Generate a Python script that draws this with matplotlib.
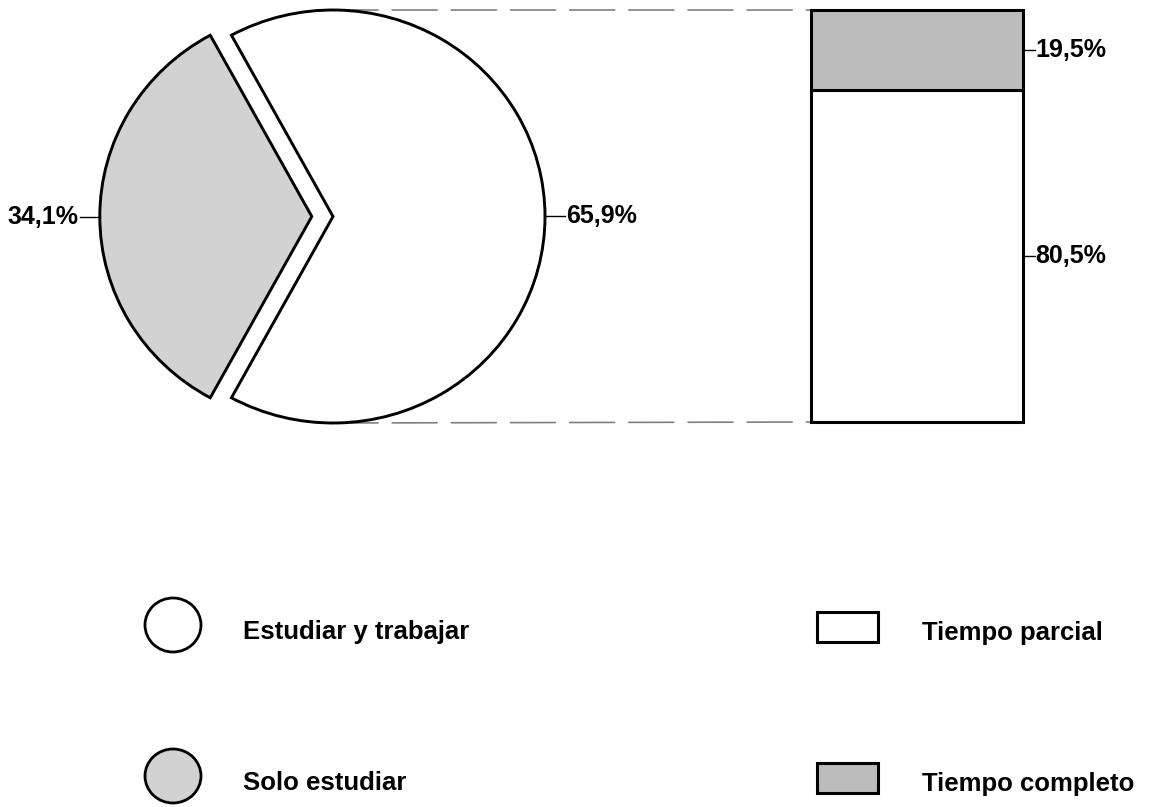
import numpy as np
import matplotlib
matplotlib.use('Agg')
import matplotlib.pyplot as plt
from matplotlib.patches import ConnectionPatch, Ellipse, Rectangle

#Datos del gráfico circular
actividades = ['Estudiar y trabajar', 'Solo estudiar']
porc_actividad = [65.9, 34.1]
etiquetas_pie = ['65,9%', '34,1%']

#Datos de la barra
jornadas = ['Tiempo parcial', 'Tiempo completo']
porc_jornada = [80.5, 19.5]
etiquetas_barra = ['80,5%', '19,5%']

#Colores
colores_pie = ['white', '#d2d2d2']
colores_barra = ['white', '#bcbcbc']

plt.rcParams['font.family'] = ['Liberation Sans', 'DejaVu Sans']
plt.rcParams['font.weight'] = 'bold'

W, H = 1156, 807
fig = plt.figure(figsize=(W / 100, H / 100), dpi=100)
fig.patch.set_facecolor('white')

#Pie
cx, cy, rx, ry, lim = 333, 216.5, 212, 206.5, 1.3
ax1 = fig.add_axes([(cx - lim * rx) / W, 1 - (cy + lim * ry) / H,
                    2 * lim * rx / W, 2 * lim * ry / H])
inicio = 180 - porc_actividad[1] * 3.6 / 2 - porc_actividad[0] * 3.6
wedges, _ = ax1.pie(porc_actividad, colors=colores_pie, explode=[0, 0.1],
                    startangle=inicio,
                    wedgeprops=dict(edgecolor='black', linewidth=2.1))
ax1.set_aspect('auto')
ax1.set_xlim(-lim, lim)
ax1.set_ylim(-lim, lim)
ax1.axis('off')

for w, etq in zip(wedges, etiquetas_pie):
    w.set_clip_on(False)
    ang = np.deg2rad((w.theta1 + w.theta2) / 2)
    x0 = w.center[0] + np.cos(ang)
    y0 = w.center[1] + np.sin(ang)
    x1 = x0 + 0.095 * np.sign(np.cos(ang))
    ax1.plot([x0, x1], [y0, y0], color='black', lw=1, clip_on=False)
    ax1.text(x1 + 0.004 * np.sign(np.cos(ang)), y0, etq, fontsize=18,
             ha='left' if np.cos(ang) > 0 else 'right', va='center')

#Barra
ax2 = fig.add_axes([811 / W, 1 - 422 / H, 212 / W, 412 / H])
abajo = 0
for val, col, etq in zip(porc_jornada, colores_barra, etiquetas_barra):
    ax2.bar(0, val, width=1, bottom=abajo, color=col, edgecolor='black',
            linewidth=2.2, clip_on=False)
    ym = abajo + val / 2
    ax2.plot([0.5, 0.5 + 12 / 212], [ym, ym], color='black', lw=1, clip_on=False)
    ax2.text(0.5 + 12 / 212, ym, etq, fontsize=18, ha='left', va='center')
    abajo += val
ax2.set_xlim(-0.5, 0.5)
ax2.set_ylim(0, 100)
ax2.axis('off')

#Lineas discontinuas
for ya, yb in [(1, 100), (-1, 0)]:
    con = ConnectionPatch(xyA=(0, ya), coordsA=ax1.transData,
                          xyB=(-0.5, yb), coordsB=ax2.transData,
                          color='#808080', linewidth=1.2,
                          linestyle=(0, (27, 8.5)), zorder=0)
    fig.add_artist(con)

#Leyendas
axl = fig.add_axes([0, 0, 1, 1], zorder=-1)
axl.set_xlim(0, W)
axl.set_ylim(H, 0)
axl.axis('off')
filas = [625, 776]
for y, nombre, col in zip(filas, actividades, colores_pie):
    axl.add_patch(Ellipse((173, y), 56, 54, facecolor=col, edgecolor='black', lw=2))
    axl.text(243, y + 14, nombre, fontsize=18.5, ha='left', va='baseline')
for y, nombre, col in zip(filas, jornadas, colores_barra):
    axl.add_patch(Rectangle((817, y - 13), 61, 30, facecolor=col, edgecolor='black', lw=2.2))
    axl.text(922, y + 15, nombre, fontsize=18.5, ha='left', va='baseline')

fig.savefig('out.png', dpi=100, facecolor='white')
